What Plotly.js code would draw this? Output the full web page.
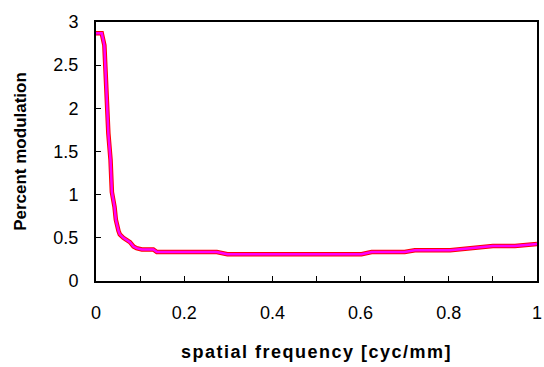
<!DOCTYPE html>
<html><head><meta charset="utf-8">
<script src="https://cdn.plot.ly/plotly-3.0.1.min.js"></script>
<style>html,body{margin:0;padding:0;background:#fff}#chart{width:544px;height:367px}</style>
</head><body><div id="chart"></div>
<script>
const freq = [0, 0.013, 0.019, 0.024, 0.028, 0.033, 0.036, 0.042, 0.045, 0.051, 0.054, 0.062, 0.07, 0.077, 0.085, 0.092, 0.104, 0.13, 0.138, 0.274, 0.298, 0.602, 0.625, 0.70, 0.723, 0.803, 0.90, 0.95, 1.0];
const modulation = [2.87, 2.87, 2.73, 2.10, 1.71, 1.40, 1.03, 0.86, 0.71, 0.58, 0.54, 0.50, 0.47, 0.45, 0.40, 0.38, 0.365, 0.365, 0.335, 0.335, 0.31, 0.31, 0.335, 0.335, 0.355, 0.355, 0.405, 0.405, 0.43];
const xTickVals = [0, 0.1, 0.2, 0.3, 0.4, 0.5, 0.6, 0.7, 0.8, 0.9, 1];
const xTickText = ['0', '', '0.2', '', '0.4', '', '0.6', '', '0.8', '', '1'];
const yTickVals = [0, 0.5, 1, 1.5, 2, 2.5, 3];
const yTickText = ['0', '0.5', '1', '1.5', '2', '2.5', '3'];

const font = {family: 'Liberation Sans, Arial, sans-serif', size: 18, color: '#000'};
const data = [
  {x: freq, y: modulation, mode: 'lines', line: {color: '#ff0000', width: 4.5}, hoverinfo: 'skip'},
  {x: freq, y: modulation, mode: 'lines', line: {color: '#ff00ff', width: 2.5}}
];
const layout = {
  width: 544, height: 367,
  margin: {l: 96, r: 7, t: 22, b: 86},
  showlegend: false,
  paper_bgcolor: '#fff', plot_bgcolor: '#fff',
  font: font,
  xaxis: {
    range: [0, 1], tickmode: 'array', tickvals: xTickVals, ticktext: xTickText,
    ticks: 'inside', ticklen: 5, tickwidth: 1, tickcolor: '#000',
    showline: true, linecolor: '#000', linewidth: 2, mirror: true,
    showgrid: false, zeroline: false, ticklabelstandoff: 14,
    title: {text: '<b>spatial frequency [cyc/mm]</b>', font: {family: font.family, size: 18}, standoff: 24}
  },
  yaxis: {
    range: [0, 3], tickmode: 'array', tickvals: yTickVals, ticktext: yTickText,
    ticks: 'inside', ticklen: 5, tickwidth: 1, tickcolor: '#000',
    showline: true, linecolor: '#000', linewidth: 2, mirror: true,
    showgrid: false, zeroline: false, ticklabelstandoff: 12,
    title: {text: '<b>Percent modulation</b>', font: {family: font.family, size: 17}, standoff: 22}
  }
};
Plotly.newPlot('chart', data, layout, {staticPlot: true, displayModeBar: false}).then(function () {
  const t = document.querySelector('.xtitle');
  if (t) t.style.letterSpacing = '1.5px';
});
</script></body></html>
